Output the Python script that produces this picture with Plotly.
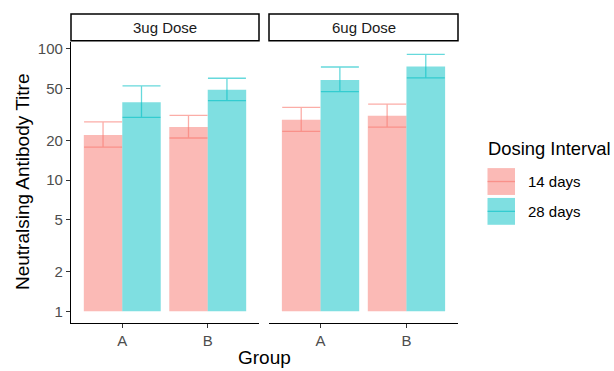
import plotly.graph_objects as go

groups = ["A", "B"]
intervals = ["14 days", "28 days"]
panels = ["3ug Dose", "6ug Dose"]

# mean titres per panel / interval, ordered by group
titre_3ug_14 = [22.0, 25.3]
titre_3ug_28 = [39.2, 48.7]
titre_6ug_14 = [28.8, 30.9]
titre_6ug_28 = [57.9, 73.1]

upper_3ug_14 = [27.7, 31.1]
lower_3ug_14 = [17.8, 20.9]
upper_3ug_28 = [52.1, 59.6]
lower_3ug_28 = [30.0, 40.2]
upper_6ug_14 = [35.7, 37.8]
lower_6ug_14 = [23.5, 25.3]
upper_6ug_28 = [72.6, 90.5]
lower_6ug_28 = [47.2, 60.0]

y_ticks = [1, 2, 5, 10, 20, 50, 100]

fill = {"14 days": "rgba(248,118,109,0.5)", "28 days": "rgba(0,191,196,0.5)"}
line = {"14 days": "rgba(248,118,109,0.6)", "28 days": "rgba(0,191,196,0.6)"}

data = {
    ("3ug Dose", "14 days"): (titre_3ug_14, upper_3ug_14, lower_3ug_14),
    ("3ug Dose", "28 days"): (titre_3ug_28, upper_3ug_28, lower_3ug_28),
    ("6ug Dose", "14 days"): (titre_6ug_14, upper_6ug_14, lower_6ug_14),
    ("6ug Dose", "28 days"): (titre_6ug_28, upper_6ug_28, lower_6ug_28),
}

W, H = 614, 371
def px(x):
    return x / W
def py(y):
    return (H - y) / H

fig = go.Figure()
for pi, panel in enumerate(panels):
    xa = "x" if pi == 0 else "x2"
    ya = "y" if pi == 0 else "y2"
    for iv in intervals:
        vals, up, lo = data[(panel, iv)]
        fig.add_trace(go.Bar(
            x=groups, y=[v - 1 for v in vals], base=[1] * len(vals),
            name=iv, offsetgroup=iv, showlegend=False,
            marker=dict(color=fill[iv], line=dict(width=0)),
            xaxis=xa, yaxis=ya,
        ))
# error bars on transparent bars so they dodge identically
for pi, panel in enumerate(panels):
    xa = "x" if pi == 0 else "x2"
    ya = "y" if pi == 0 else "y2"
    for iv in intervals:
        vals, up, lo = data[(panel, iv)]
        fig.add_trace(go.Bar(
            x=groups, y=[v - 1 for v in vals], base=[1] * len(vals),
            offsetgroup=iv, showlegend=False,
            marker=dict(color="rgba(0,0,0,0)", line=dict(width=0)),
            error_y=dict(type="data", symmetric=False,
                         array=[u - v for u, v in zip(up, vals)],
                         arrayminus=[v - l for v, l in zip(vals, lo)],
                         color=line[iv], thickness=1.3, width=19),
            xaxis=xa, yaxis=ya, hoverinfo="skip",
        ))

font_family = "Liberation Sans, Arial, sans-serif"
yr = [-0.091, 2.053]
axis_common = dict(
    type="category", range=[-0.6, 1.6], showline=True, linecolor="black",
    linewidth=1.3, ticks="outside", ticklen=4, tickcolor="#333333", tickwidth=1.1,
    tickfont=dict(size=15, color="#4D4D4D", family=font_family),
    showgrid=False, zeroline=False, fixedrange=True,
)
fig.update_layout(
    width=W, height=H, margin=dict(l=0, r=0, t=0, b=0),
    plot_bgcolor="white", paper_bgcolor="white",
    barmode="group", bargap=0.1, bargroupgap=0,
    font=dict(family=font_family),
    xaxis=dict(domain=[px(71), px(259)], anchor="y", **axis_common),
    xaxis2=dict(domain=[px(269), px(458)], anchor="y2", **axis_common),
    yaxis=dict(domain=[py(323), py(40)], type="log", range=yr,
               tickvals=y_ticks, ticktext=[str(t) for t in y_ticks],
               showline=True, linecolor="black", linewidth=1.3,
               ticks="outside", ticklen=4, tickcolor="#333333", tickwidth=1.1,
               tickfont=dict(size=15, color="#4D4D4D", family=font_family),
               showgrid=False, zeroline=False, anchor="x"),
    yaxis2=dict(domain=[py(323), py(40)], type="log", range=yr, matches="y",
                showticklabels=False, showline=False, ticks="",
                showgrid=False, zeroline=False, anchor="x2"),
    showlegend=False,
)

shapes = []
annotations = []
strip_x = [(71, 259), (269, 458)]
for (x0, x1), panel in zip(strip_x, panels):
    shapes.append(dict(type="rect", xref="paper", yref="paper",
                       x0=px(x0), x1=px(x1), y0=py(39), y1=py(12),
                       line=dict(color="black", width=1.5), fillcolor="white"))
    annotations.append(dict(text=panel, xref="paper", yref="paper",
                            x=px((x0 + x1) / 2), y=py(26), showarrow=False,
                            xanchor="center", yanchor="middle",
                            font=dict(size=15, color="#1A1A1A", family=font_family)))

annotations.append(dict(text="Neutralsing Antibody Titre", xref="paper", yref="paper",
                        x=px(22), y=py(181), textangle=-90, showarrow=False,
                        xanchor="center", yanchor="middle",
                        font=dict(size=19, color="black", family=font_family)))
annotations.append(dict(text="Group", xref="paper", yref="paper",
                        x=px(264), y=py(357), showarrow=False,
                        xanchor="center", yanchor="middle",
                        font=dict(size=19, color="black", family=font_family)))

annotations.append(dict(text="Dosing Interval", xref="paper", yref="paper",
                        x=px(486), y=py(147), showarrow=False,
                        xanchor="left", yanchor="middle",
                        font=dict(size=18.4, color="black", family=font_family)))
key_y = [(167, 194), (197, 224)]
for (y0, y1), iv in zip(key_y, intervals):
    shapes.append(dict(type="rect", xref="paper", yref="paper",
                       x0=px(487.5), x1=px(515), y0=py(y1), y1=py(y0),
                       line=dict(width=0), fillcolor=fill[iv]))
    shapes.append(dict(type="line", xref="paper", yref="paper",
                       x0=px(487.5), x1=px(515), y0=py((y0 + y1) / 2), y1=py((y0 + y1) / 2),
                       line=dict(color=line[iv], width=1.3)))
    annotations.append(dict(text=iv, xref="paper", yref="paper",
                            x=px(526), y=py((y0 + y1) / 2), showarrow=False,
                            xanchor="left", yanchor="middle",
                            font=dict(size=15, color="black", family=font_family)))

fig.update_layout(shapes=shapes, annotations=annotations)
fig.write_html("out.html", config={"displayModeBar": False},
               post_script="document.body.style.margin='0';document.body.style.overflow='hidden';")
